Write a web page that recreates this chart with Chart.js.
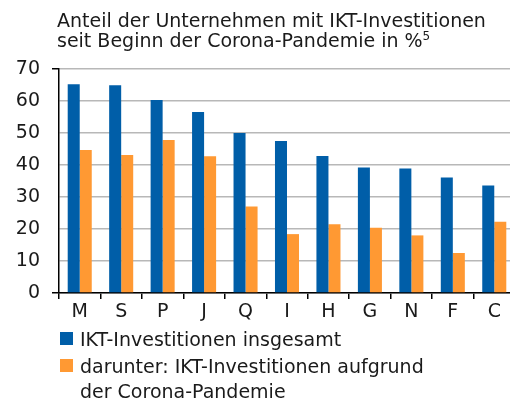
<!DOCTYPE html>
<html lang="de">
<head>
<meta charset="UTF-8"/>
<title>IKT-Investitionen</title>
<script src="https://cdn.jsdelivr.net/npm/chart.js"></script>
<style>
 html,body{margin:0;padding:0;width:510px;height:401px;overflow:hidden;background:#fff}
 body{position:relative;font-family:"DejaVu Sans",sans-serif;color:#1a1a1a}
 #wrap{position:absolute;left:0;top:0;width:520px;height:401px}
 #title{position:absolute;left:57px;top:10px;font-size:19px;line-height:20px;white-space:nowrap}
 #title sup{font-size:12px;vertical-align:7px;line-height:0}
 .leg{position:absolute;left:80px;font-size:19px;line-height:25px;white-space:nowrap}
 .leg i{position:absolute;left:-20px;top:5px;width:13px;height:13px}
</style>
</head>
<body>
<div id="wrap"><canvas id="chart" width="520" height="401"></canvas></div>
<div id="title">Anteil der Unternehmen mit IKT-Investitionen<br>seit Beginn der Corona-Pandemie in %<sup>5</sup></div>
<div class="leg" style="top:327px"><i style="background:#005ea8"></i>IKT-Investitionen insgesamt</div>
<div class="leg" style="top:354px"><i style="background:#ff9933"></i>darunter: IKT-Investitionen aufgrund<br>der Corona-Pandemie</div>

<script>
const categories = ['M','S','P','J','Q','I','H','G','N','F','C'];
const gesamt = [65.2, 64.9, 60.3, 56.6, 50.0, 47.5, 42.8, 39.2, 38.9, 36.1, 33.6];
const corona = [44.7, 43.1, 47.8, 42.7, 27.0, 18.4, 21.5, 20.4, 18.0, 12.5, 22.3];
const yTicks = [0, 10, 20, 30, 40, 50, 60, 70];

const font = {family:'"DejaVu Sans", sans-serif', size:19};

new Chart(document.getElementById('chart'), {
  type:'bar',
  data:{
    labels:categories,
    datasets:[
      {label:'IKT-Investitionen insgesamt', data:gesamt, backgroundColor:'#005ea8'},
      {label:'darunter: IKT-Investitionen aufgrund der Corona-Pandemie', data:corona, backgroundColor:'#ff9933'}
    ]
  },
  options:{
    responsive:false,
    animation:false,
    layout:{padding:{top:69, bottom:78, left:0, right:5}},
    datasets:{bar:{barPercentage:1, categoryPercentage:0.58}},
    plugins:{legend:{display:false}, tooltip:{enabled:false}},
    scales:{
      x:{
        grid:{display:true, drawOnChartArea:false, tickLength:6, tickColor:'#000', lineWidth:1.5},
        border:{color:'#000', width:1.5},
        ticks:{color:'#1a1a1a', font, padding:2},
        afterFit:s=>{s.height = 30;}
      },
      y:{
        min:0, max:70,
        afterBuildTicks:s=>{s.ticks = yTicks.map(v=>({value:v}));},
        grid:{color:'#b8b8b8', lineWidth:1.5, tickLength:7,
              tickColor:c=>(c.tick && (c.tick.value===0 || c.tick.value===70)) ? '#000' : 'rgba(0,0,0,0)'},
        border:{color:'#000', width:1.5},
        ticks:{color:'#1a1a1a', font, padding:12},
        afterFit:s=>{s.width = 59;}
      }
    }
  }
});
</script>
</body>
</html>
